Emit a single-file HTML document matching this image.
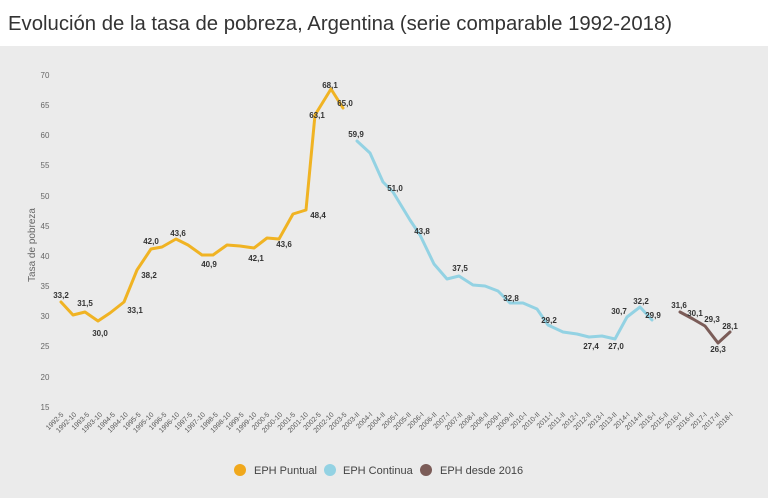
<!DOCTYPE html>
<html><head><meta charset="utf-8"><style>
html,body{margin:0;padding:0;background:#fff;}
svg{display:block;}
</style></head><body>
<svg width="768" height="498" xmlns="http://www.w3.org/2000/svg" font-family="Liberation Sans, sans-serif">
<rect x="0" y="0" width="768" height="498" fill="#fff"/>
<rect x="0" y="46" width="768" height="452" fill="#ebebeb"/>
<text x="8" y="30" font-size="20" fill="#333" textLength="664" lengthAdjust="spacingAndGlyphs">Evolución de la tasa de pobreza, Argentina (serie comparable 1992-2018)</text>
<g font-size="8" fill="#666" text-anchor="middle">
<text x="45" y="78">70</text><text x="45" y="108">65</text><text x="45" y="138">60</text><text x="45" y="168">55</text><text x="45" y="199">50</text><text x="45" y="229">45</text><text x="45" y="259">40</text><text x="45" y="289">35</text><text x="45" y="319">30</text><text x="45" y="349">25</text><text x="45" y="380">20</text><text x="45" y="410">15</text>
</g>
<text transform="translate(35,245) rotate(-90)" font-size="10" fill="#666" text-anchor="middle">Tasa de pobreza</text>
<g fill="none" stroke-width="3" stroke-linejoin="round" stroke-linecap="round">
<polyline stroke="#f0b323" points="61,302 73,315 85,312 98,321 110,313 124,302 137,270 151,249 162,247 176,239 188,245 202,255 213,255 227,245 240,246 254,248 267,238 279,239 293,214 306,210 315,115 331,89 343,108"/>
<polyline stroke="#93d2e3" points="357,141 370,153 383,182 393,192 410,220 420,235 434,264 447,279 459,276 473,285 485,286 498,291 510,303 523,303 537,309 548,325 563,332 577,334 589,337 602,336 615,339 627,317 640,307 652,320"/>
<polyline stroke="#7b5c58" points="680,312 693,319 705,326 718,343 730,332"/>
</g>
<g font-size="8" fill="#333" text-anchor="middle" font-weight="bold">
<text x="61" y="298">33,2</text><text x="85" y="306">31,5</text><text x="100" y="336">30,0</text><text x="135" y="313">33,1</text><text x="149" y="278">38,2</text><text x="151" y="244">42,0</text><text x="178" y="236">43,6</text><text x="209" y="267">40,9</text><text x="256" y="261">42,1</text><text x="284" y="247">43,6</text><text x="318" y="218">48,4</text><text x="317" y="118">63,1</text><text x="330" y="88">68,1</text><text x="345" y="106">65,0</text><text x="356" y="137">59,9</text><text x="395" y="191">51,0</text><text x="422" y="234">43,8</text><text x="460" y="271">37,5</text><text x="511" y="301">32,8</text><text x="549" y="323">29,2</text><text x="591" y="349">27,4</text><text x="616" y="349">27,0</text><text x="619" y="314">30,7</text><text x="641" y="304">32,2</text><text x="653" y="318">29,9</text><text x="679" y="308">31,6</text><text x="695" y="316">30,1</text><text x="712" y="322">29,3</text><text x="730" y="329">28,1</text><text x="718" y="352">26,3</text>
</g>
<g font-size="7" fill="#555" text-anchor="end">
<text transform="translate(64,415) rotate(-45)">1992-5</text>
<text transform="translate(76.9,415) rotate(-45)">1992-10</text>
<text transform="translate(89.7,415) rotate(-45)">1993-5</text>
<text transform="translate(102.6,415) rotate(-45)">1993-10</text>
<text transform="translate(115.5,415) rotate(-45)">1994-5</text>
<text transform="translate(128.4,415) rotate(-45)">1994-10</text>
<text transform="translate(141.2,415) rotate(-45)">1995-5</text>
<text transform="translate(154.1,415) rotate(-45)">1995-10</text>
<text transform="translate(167,415) rotate(-45)">1996-5</text>
<text transform="translate(179.8,415) rotate(-45)">1996-10</text>
<text transform="translate(192.7,415) rotate(-45)">1997-5</text>
<text transform="translate(205.6,415) rotate(-45)">1997-10</text>
<text transform="translate(218.4,415) rotate(-45)">1998-5</text>
<text transform="translate(231.3,415) rotate(-45)">1998-10</text>
<text transform="translate(244.2,415) rotate(-45)">1999-5</text>
<text transform="translate(257,415) rotate(-45)">1999-10</text>
<text transform="translate(269.9,415) rotate(-45)">2000-5</text>
<text transform="translate(282.8,415) rotate(-45)">2000-10</text>
<text transform="translate(295.7,415) rotate(-45)">2001-5</text>
<text transform="translate(308.5,415) rotate(-45)">2001-10</text>
<text transform="translate(321.4,415) rotate(-45)">2002-5</text>
<text transform="translate(334.3,415) rotate(-45)">2002-10</text>
<text transform="translate(347.1,415) rotate(-45)">2003-5</text>
<text transform="translate(360,415) rotate(-45)">2003-II</text>
<text transform="translate(372.9,415) rotate(-45)">2004-I</text>
<text transform="translate(385.7,415) rotate(-45)">2004-II</text>
<text transform="translate(398.6,415) rotate(-45)">2005-I</text>
<text transform="translate(411.5,415) rotate(-45)">2005-II</text>
<text transform="translate(424.3,415) rotate(-45)">2006-I</text>
<text transform="translate(437.2,415) rotate(-45)">2006-II</text>
<text transform="translate(450.1,415) rotate(-45)">2007-I</text>
<text transform="translate(463,415) rotate(-45)">2007-II</text>
<text transform="translate(475.8,415) rotate(-45)">2008-I</text>
<text transform="translate(488.7,415) rotate(-45)">2008-II</text>
<text transform="translate(501.6,415) rotate(-45)">2009-I</text>
<text transform="translate(514.4,415) rotate(-45)">2009-II</text>
<text transform="translate(527.3,415) rotate(-45)">2010-I</text>
<text transform="translate(540.2,415) rotate(-45)">2010-II</text>
<text transform="translate(553,415) rotate(-45)">2011-I</text>
<text transform="translate(565.9,415) rotate(-45)">2011-II</text>
<text transform="translate(578.8,415) rotate(-45)">2012-I</text>
<text transform="translate(591.6,415) rotate(-45)">2012-II</text>
<text transform="translate(604.5,415) rotate(-45)">2013-I</text>
<text transform="translate(617.4,415) rotate(-45)">2013-II</text>
<text transform="translate(630.3,415) rotate(-45)">2014-I</text>
<text transform="translate(643.1,415) rotate(-45)">2014-II</text>
<text transform="translate(656,415) rotate(-45)">2015-I</text>
<text transform="translate(668.9,415) rotate(-45)">2015-II</text>
<text transform="translate(681.7,415) rotate(-45)">2016-I</text>
<text transform="translate(694.6,415) rotate(-45)">2016-II</text>
<text transform="translate(707.5,415) rotate(-45)">2017-I</text>
<text transform="translate(720.3,415) rotate(-45)">2017-II</text>
<text transform="translate(733.2,415) rotate(-45)">2018-I</text>
</g>
<g font-size="11" fill="#444">
<circle cx="240" cy="470" r="6" fill="#f0a81c"/><text x="254" y="474">EPH Puntual</text>
<circle cx="330" cy="470" r="6" fill="#93d2e3"/><text x="343" y="474">EPH Continua</text>
<circle cx="426" cy="470" r="6" fill="#7b5c58"/><text x="440" y="474">EPH desde 2016</text>
</g>
</svg>
</body></html>
